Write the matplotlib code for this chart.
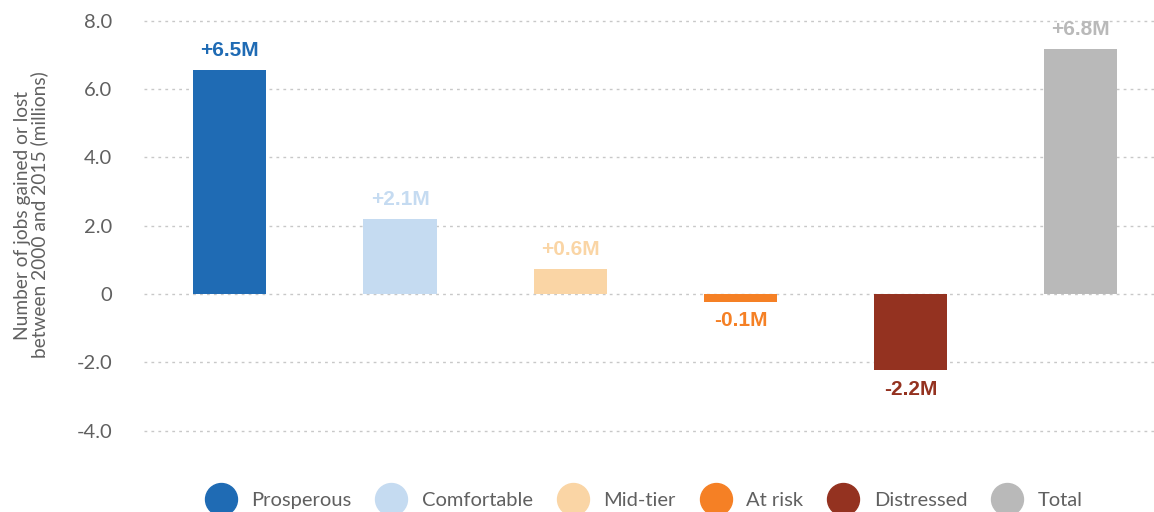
import matplotlib.pyplot as plt
from matplotlib.lines import Line2D

categories = ['Prosperous', 'Comfortable', 'Mid-tier', 'At risk', 'Distressed', 'Total']
bar_values = [6.57, 2.2, 0.73, -0.22, -2.23, 7.18]
bar_labels = ['+6.5M', '+2.1M', '+0.6M', '-0.1M', '-2.2M', '+6.8M']
colors = ['#1f6bb4', '#c5dbf1', '#fad5a5', '#f58025', '#943220', '#b9b9b9']
yticks = [-4, -2, 0, 2, 4, 6, 8]

fig = plt.figure(figsize=(11.54, 5.12), dpi=100)
ax = fig.add_axes([0.125, 0.1256, 0.875, 0.867])

x = range(len(categories))
ax.bar(x, bar_values, width=0.43, color=colors, zorder=3)

for i, (v, lab, c) in enumerate(zip(bar_values, bar_labels, colors)):
    if v >= 0:
        ax.annotate(lab, (i, v), xytext=(0, 7), textcoords='offset points',
                    ha='center', va='bottom', color=c, fontsize=15,
                    fontweight='bold', family='Liberation Sans')
    else:
        ax.annotate(lab, (i, v), xytext=(0, -7), textcoords='offset points',
                    ha='center', va='top', color=c, fontsize=15,
                    fontweight='bold', family='Liberation Sans')

ax.set_xlim(-0.503, 5.43)
ax.set_ylim(-4.5, 8.5)
ax.set_yticks(yticks)
ax.set_yticklabels(['0' if t == 0 else '%.1f' % t for t in yticks],
                   fontsize=14.5, color='#606060', family='Lato')
ax.tick_params(axis='y', length=0, pad=23)
ax.set_xticks([])
ax.grid(axis='y', color='#c8c8c8', linestyle=(0, (2, 3)), linewidth=1, zorder=0)
for s in ax.spines.values():
    s.set_visible(False)

fig.text(0.027, 0.58, 'Number of jobs gained or lost\nbetween 2000 and 2015 (millions)',
         rotation=90, ha='center', va='center', fontsize=13.8, color='#606060',
         family='Lato', linespacing=0.95)

handles = [Line2D([], [], marker='o', linestyle='', markersize=23,
                  markerfacecolor=c, markeredgecolor=c) for c in colors]
leg = fig.legend(handles, categories, loc='center', bbox_to_anchor=(0.556, 0.022),
                 ncol=6, frameon=False, handletextpad=0.5, columnspacing=1.0,
                 prop={'family': 'Lato', 'size': 14.5})
for t in leg.get_texts():
    t.set_color('#606060')

fig.savefig('out.png', dpi=100)
